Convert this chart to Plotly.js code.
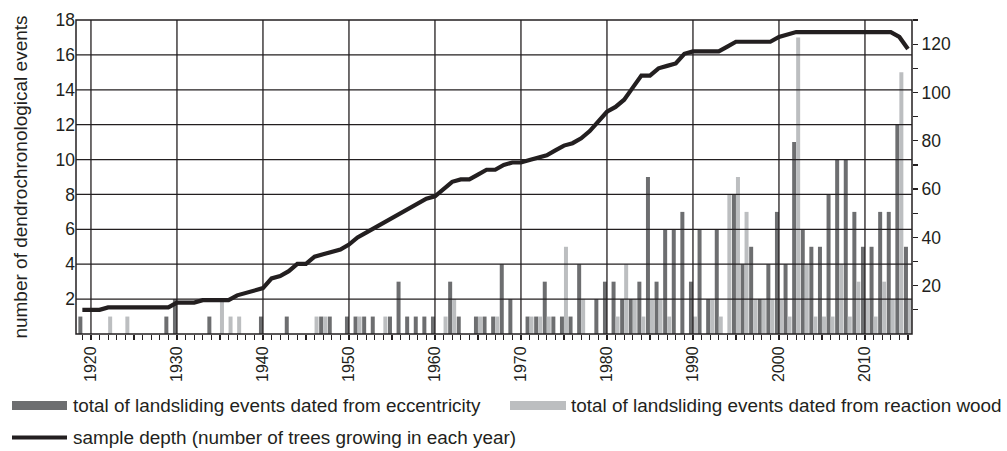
<!DOCTYPE html>
<html>
<head>
<meta charset="utf-8">
<script src="https://cdn.plot.ly/plotly-3.0.1.min.js"></script>
<style>
  html, body { margin: 0; padding: 0; background: #ffffff; }
  #chart { width: 1007px; height: 451px; }
</style>
</head>
<body>
<div id="chart"></div>
<script>
// ---- data ----
const years = [
  1919,
  1920,1921,1922,1923,1924,1925,1926,1927,1928,1929,
  1930,1931,1932,1933,1934,1935,1936,1937,1938,1939,
  1940,1941,1942,1943,1944,1945,1946,1947,1948,1949,
  1950,1951,1952,1953,1954,1955,1956,1957,1958,1959,
  1960,1961,1962,1963,1964,1965,1966,1967,1968,1969,
  1970,1971,1972,1973,1974,1975,1976,1977,1978,1979,
  1980,1981,1982,1983,1984,1985,1986,1987,1988,1989,
  1990,1991,1992,1993,1994,1995,1996,1997,1998,1999,
  2000,2001,2002,2003,2004,2005,2006,2007,2008,2009,
  2010,2011,2012,2013,2014,2015
];
const eccentricity = [
  1,
  0,0,0,0,0,0,0,0,0,1,
  2,0,0,0,1,0,0,0,0,0,
  1,0,0,1,0,0,0,1,1,0,
  1,1,1,1,0,1,3,1,1,1,
  1,0,3,1,0,1,1,1,4,2,
  0,1,1,3,1,1,1,4,0,2,
  3,3,2,2,3,9,3,6,6,7,
  3,6,2,6,0,8,4,5,2,4,
  7,4,11,6,5,5,8,10,10,7,
  5,5,7,7,12,5
];
const reactionWood = [
  0,
  0,0,1,0,1,0,0,0,0,0,
  0,0,0,0,0,2,1,1,0,0,
  0,0,0,0,0,0,1,1,0,0,
  0,1,0,0,1,0,0,0,0,0,
  0,1,2,0,0,1,0,1,0,0,
  0,1,1,1,0,5,0,2,0,0,
  0,1,4,2,1,2,2,1,0,0,
  1,0,2,1,8,9,7,2,2,2,
  2,1,17,4,1,1,1,4,1,3,
  2,1,3,2,15,2
];
const sampleDepth = [
  10,
  10,10,11,11,11,11,11,11,11,11,
  13,13,13,14,14,14,14,16,17,18,
  19,23,24,26,29,29,32,33,34,35,
  37,40,42,44,46,48,50,52,54,56,
  57,60,63,64,64,66,68,68,70,71,
  71,72,73,74,76,78,79,81,84,88,
  92,94,97,102,107,107,110,111,112,116,
  117,117,117,117,119,121,121,121,121,121,
  123,124,125,125,125,125,125,125,125,125,
  125,125,125,125,123,118
];
const xTickVals = [1920,1930,1940,1950,1960,1970,1980,1990,2000,2010];
const xTickText = ['1920','1930','1940','1950','1960','1970','1980','1990','2000','2010'];
const yTickVals = [2,4,6,8,10,12,14,16,18];
const yTickText = ['2','4','6','8','10','12','14','16','18'];
const y2TickVals = [10,20,30,40,50,60,70,80,90,100,110,120,130];
const y2TickText = ['','20','','40','','60','','80','','100','','120',''];
const gridY = [2,4,6,8,10,12,14,16];
const labels = {
  ecc: 'total of landsliding events dated from eccentricity',
  rw: 'total of landsliding events dated from reaction wood',
  depth: 'sample depth (number of trees growing in each year)',
  yTitle: 'number of dendrochronological events'
};

// ---- styling ----
const INK = '#231f20';
const DARK = '#6d6e70';
const LIGHT = '#bcbec0';
const FONT = 'Liberation Sans, Arial, sans-serif';

const traces = [
  { type: 'bar', x: years, y: eccentricity, name: labels.ecc,
    marker: { color: DARK, line: { width: 0 } }, showlegend: false, hoverinfo: 'x+y' },
  { type: 'bar', x: years, y: reactionWood, name: labels.rw,
    marker: { color: LIGHT, line: { width: 0 } }, showlegend: false, hoverinfo: 'x+y' },
  { type: 'scatter', mode: 'lines', x: years, y: sampleDepth, yaxis: 'y2', name: labels.depth,
    line: { color: INK, width: 4.2, shape: 'linear' }, showlegend: false }
];

// plot area in pixels: x 76..912, y 20..334
const L = 76, R = 95, T = 20, B = 117;
const PW = 1007 - L - R, PH = 451 - T - B;
const px = x => (x - L) / PW;
const py = y => (451 - B - y) / PH;

const shapes = [];
gridY.forEach(v => shapes.push({ type: 'line', xref: 'paper', yref: 'y', x0: 0, x1: 1, y0: v, y1: v,
  line: { color: INK, width: 1.3 }, layer: 'above' }));
xTickVals.forEach(v => shapes.push({ type: 'line', xref: 'x', yref: 'paper', x0: v, x1: v, y0: 0, y1: 1,
  line: { color: INK, width: 1.3 }, layer: 'above' }));
shapes.push({ type: 'rect', xref: 'paper', yref: 'paper', x0: 0, x1: 1, y0: 0, y1: 1,
  line: { color: INK, width: 1.5 }, fillcolor: 'rgba(0,0,0,0)', layer: 'above' });

// legend swatches
shapes.push({ type: 'rect', xref: 'paper', yref: 'paper', x0: px(12), x1: px(67), y0: py(401), y1: py(410),
  fillcolor: DARK, line: { width: 0 } });
shapes.push({ type: 'rect', xref: 'paper', yref: 'paper', x0: px(510), x1: px(566), y0: py(401), y1: py(410),
  fillcolor: LIGHT, line: { width: 0 } });
shapes.push({ type: 'line', xref: 'paper', yref: 'paper', x0: px(12), x1: px(67), y0: py(437.5), y1: py(437.5),
  line: { color: INK, width: 4 } });

const LEG = 18.9;
const annotations = [
  { xref: 'paper', yref: 'paper', x: px(71), y: py(405.5), xanchor: 'left', yanchor: 'middle',
    text: labels.ecc, showarrow: false, font: { family: FONT, size: LEG, color: INK } },
  { xref: 'paper', yref: 'paper', x: px(569), y: py(405.5), xanchor: 'left', yanchor: 'middle',
    text: labels.rw, showarrow: false, font: { family: FONT, size: LEG, color: INK } },
  { xref: 'paper', yref: 'paper', x: px(71), y: py(437.5), xanchor: 'left', yanchor: 'middle',
    text: labels.depth, showarrow: false, font: { family: FONT, size: LEG, color: INK } }
];

const layout = {
  width: 1007, height: 451,
  margin: { l: L, r: R, t: T, b: B, pad: 0 },
  paper_bgcolor: '#ffffff', plot_bgcolor: '#ffffff',
  font: { family: FONT, color: INK },
  barmode: 'group', bargap: 0.07, bargroupgap: 0,
  showlegend: false,
  xaxis: {
    range: [1918.26, 2015.47],
    tickmode: 'array', tickvals: xTickVals, ticktext: xTickText,
    tickangle: -90, ticks: 'outside', ticklen: 5, tickwidth: 1.2, tickcolor: INK,
    tickfont: { family: FONT, size: 16, color: INK },
    minor: { tickmode: 'linear', tick0: 1919, dtick: 1, ticks: 'outside', ticklen: 5, tickwidth: 1.2, tickcolor: INK, showgrid: false },
    showgrid: false, zeroline: false, showline: false, fixedrange: true
  },
  yaxis: {
    range: [0, 18],
    tickmode: 'array', tickvals: yTickVals, ticktext: yTickText,
    ticks: '', tickfont: { family: FONT, size: 17.5, color: INK },
    showgrid: false, zeroline: false, showline: false, fixedrange: true,
    title: { text: labels.yTitle, font: { family: FONT, size: 19, color: INK }, standoff: 22 }
  },
  yaxis2: {
    range: [0, 130], overlaying: 'y', side: 'right',
    tickmode: 'array', tickvals: y2TickVals, ticktext: y2TickText,
    ticks: 'outside', ticklen: 5, tickwidth: 1.2, tickcolor: INK,
    tickfont: { family: FONT, size: 17.5, color: INK },
    showgrid: false, zeroline: false, showline: false, fixedrange: true
  },
  shapes: shapes,
  annotations: annotations
};

Plotly.newPlot('chart', traces, layout, { staticPlot: true, displayModeBar: false });
</script>
</body>
</html>
